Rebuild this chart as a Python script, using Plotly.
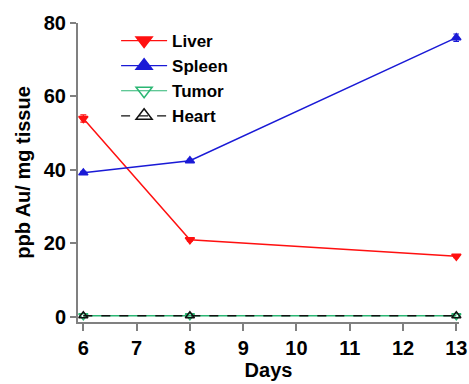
import plotly.graph_objects as go

days = [6, 8, 13]
liver = [54.0, 21.0, 16.5]
liver_err = [1.0, 0.4, 0.4]
spleen = [39.2, 42.5, 76.0]
spleen_err = [0.4, 0.4, 1.0]
tumor = [0.3, 0.3, 0.3]
heart = [0.3, 0.3, 0.3]
x_ticks = [6, 7, 8, 9, 10, 11, 12, 13]
y_ticks = [0, 20, 40, 60, 80]

RED = "#ff1010"
BLUE = "#1a1ad6"
GREEN = "#2bb673"
BLACK = "#111111"

fig = go.Figure()

series = [
    ("Liver", liver, liver_err, RED, "triangle-down", "solid"),
    ("Spleen", spleen, spleen_err, BLUE, "triangle-up", "solid"),
    ("Tumor", tumor, None, GREEN, "triangle-down-open", "solid"),
    ("Heart", heart, None, BLACK, "triangle-up-open", "dash"),
]

for name, vals, err, col, sym, dash in series:
    fig.add_trace(go.Scatter(
        x=days, y=vals, mode="lines+markers", name=name, showlegend=False,
        line=dict(color=col, width=1.5, dash=dash),
        marker=dict(symbol=sym, size=8, color=col, line=dict(color=col, width=1.5)),
        error_y=dict(type="data", array=err, color=col, thickness=1.2, width=3, visible=err is not None),
        cliponaxis=False,
    ))

for name, vals, err, col, sym, dash in series:
    fig.add_trace(go.Scatter(
        x=[None], y=[None], mode="lines+markers", name=name,
        line=dict(color=col, width=1.2, dash=dash),
        marker=dict(symbol=sym, size=14, color=col, line=dict(color=col, width=1.5)),
    ))

fig.update_layout(
    width=469, height=384,
    margin=dict(l=78, r=10, t=23, b=62),
    paper_bgcolor="white", plot_bgcolor="white",
    font=dict(family="Liberation Sans, Arial, sans-serif", size=20, color="black", weight="bold"),
    showlegend=True,
    legend=dict(x=0.10, y=1.0, xanchor="left", yanchor="top",
                bgcolor="rgba(0,0,0,0)", tracegroupgap=0,
                font=dict(size=17, weight="bold"), itemwidth=46),
    xaxis=dict(range=[5.9, 13.05], tickvals=x_ticks, showgrid=False, zeroline=False,
               showline=True, linecolor="#808080", linewidth=2, automargin=False,
               ticks="outside", ticklen=7, tickcolor="#808080", tickwidth=1.5,
               title=dict(text="Days", standoff=4, font=dict(size=20, weight="bold")),
               tickfont=dict(size=20, weight="bold")),
    yaxis=dict(range=[-1.4, 80], tickvals=y_ticks, showgrid=False, zeroline=False,
               showline=True, linecolor="#808080", linewidth=2, automargin=False,
               ticks="outside", ticklen=6, tickcolor="#808080", tickwidth=1.5,
               title=dict(text="ppb Au/ mg tissue", standoff=8, font=dict(size=20, weight="bold")),
               tickfont=dict(size=20, weight="bold")),
)

fig.write_html("out.html")
